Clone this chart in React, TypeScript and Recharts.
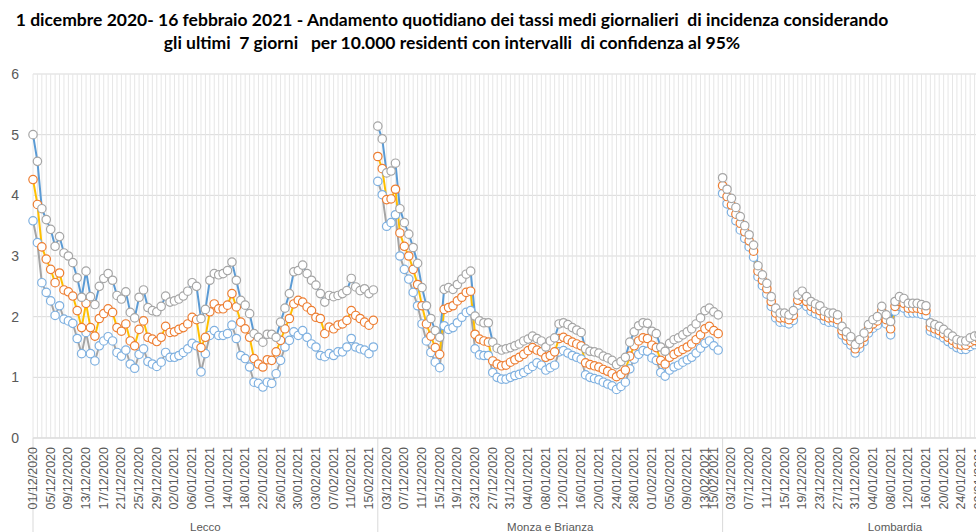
import React from 'react';
import { LineChart, Line, XAxis, YAxis, CartesianGrid } from 'recharts';

// ---------- categories ----------
const DATES: string[] = [
  '01/12/2020','02/12/2020','03/12/2020','04/12/2020','05/12/2020','06/12/2020','07/12/2020','08/12/2020','09/12/2020','10/12/2020',
  '11/12/2020','12/12/2020','13/12/2020','14/12/2020','15/12/2020','16/12/2020','17/12/2020','18/12/2020','19/12/2020','20/12/2020',
  '21/12/2020','22/12/2020','23/12/2020','24/12/2020','25/12/2020','26/12/2020','27/12/2020','28/12/2020','29/12/2020','30/12/2020',
  '31/12/2020','01/01/2021','02/01/2021','03/01/2021','04/01/2021','05/01/2021','06/01/2021','07/01/2021','08/01/2021','09/01/2021',
  '10/01/2021','11/01/2021','12/01/2021','13/01/2021','14/01/2021','15/01/2021','16/01/2021','17/01/2021','18/01/2021','19/01/2021',
  '20/01/2021','21/01/2021','22/01/2021','23/01/2021','24/01/2021','25/01/2021','26/01/2021','27/01/2021','28/01/2021','29/01/2021',
  '30/01/2021','31/01/2021','01/02/2021','02/02/2021','03/02/2021','04/02/2021','05/02/2021','06/02/2021','07/02/2021','08/02/2021',
  '09/02/2021','10/02/2021','11/02/2021','12/02/2021','13/02/2021','14/02/2021','15/02/2021','16/02/2021',
];

const GROUP_NAMES: string[] = ['Lecco', 'Monza e Brianza', 'Lombardia'];

// ---------- series values ----------
const LECCO_UPPER: (number | null)[] = [
  5.0, 4.56, 3.78, 3.6, 3.44, 3.16, 3.32, 3.05, 3.0, 2.89,
  2.64, 2.32, 2.75, 2.33, 2.2, 2.5, 2.63, 2.71, 2.6, 2.35,
  2.29, 2.41, 2.07, 1.98, 2.32, 2.44, 2.15, 2.1, 2.08, 2.17,
  2.34, 2.24, 2.26, 2.29, 2.34, 2.42, 2.56, 2.5, 1.97, 2.12,
  2.6, 2.71, 2.69, 2.71, 2.76, 2.9, 2.6, 2.27, 2.19, 2.05,
  1.72, 1.66, 1.58, 1.71, 1.71, 1.66, 1.91, 2.14, 2.38, 2.74,
  2.76, 2.85, 2.71, 2.6, 2.52, 2.38, 2.24, 2.35, 2.33, 2.35,
  2.38, 2.43, 2.63, 2.49, 2.43, 2.46, 2.38, 2.44,
];
const LECCO_MEAN: (number | null)[] = [
  4.26, 3.85, 3.15, 2.95, 2.78, 2.56, 2.72, 2.44, 2.41, 2.34,
  2.1, 1.82, 2.22, 1.82, 1.68, 1.97, 2.05, 2.13, 2.07, 1.82,
  1.76, 1.88, 1.6, 1.52, 1.79, 1.93, 1.66, 1.63, 1.59, 1.66,
  1.84, 1.74, 1.75, 1.79, 1.82, 1.88, 1.99, 1.95, 1.49, 1.66,
  2.08, 2.21, 2.13, 2.13, 2.19, 2.38, 2.16, 1.91, 1.8, 1.66,
  1.31, 1.22, 1.17, 1.29, 1.28, 1.42, 1.61, 1.8, 1.97, 2.21,
  2.27, 2.24, 2.16, 2.1, 1.99, 1.97, 1.72, 1.83, 1.8, 1.86,
  1.88, 1.94, 2.1, 2.02, 1.97, 1.91, 1.86, 1.94,
];
const LECCO_LOWER: (number | null)[] = [
  3.58, 3.22, 2.56, 2.4, 2.26, 2.02, 2.18, 1.96, 1.93, 1.89,
  1.64, 1.39, 1.74, 1.39, 1.27, 1.52, 1.6, 1.67, 1.6, 1.41,
  1.35, 1.45, 1.22, 1.15, 1.38, 1.47, 1.26, 1.22, 1.18, 1.25,
  1.41, 1.33, 1.33, 1.36, 1.41, 1.47, 1.56, 1.52, 1.09, 1.39,
  1.69, 1.77, 1.69, 1.69, 1.72, 1.86, 1.64, 1.36, 1.31, 1.17,
  0.92, 0.9, 0.84, 0.92, 0.9, 1.06, 1.28, 1.5, 1.61, 1.75,
  1.69, 1.77, 1.66, 1.55, 1.5, 1.36, 1.34, 1.39, 1.36, 1.42,
  1.42, 1.5, 1.64, 1.5, 1.47, 1.45, 1.39, 1.5,
];

const MONZA_UPPER: (number | null)[] = [
  5.14, 4.93, 4.37, 4.4, 4.53, 3.78, 3.55, 3.36, 3.14, 2.88,
  2.48, 2.18, 1.97, 1.77, 1.66, 2.45, 2.48, 2.45, 2.53, 2.62,
  2.7, 2.75, 2.01, 1.93, 1.9, 1.9, 1.58, 1.48, 1.45, 1.47,
  1.49, 1.52, 1.55, 1.6, 1.63, 1.68, 1.64, 1.6, 1.5, 1.6,
  1.65, 1.88, 1.9, 1.87, 1.82, 1.78, 1.74, 1.47, 1.43, 1.42,
  1.4, 1.35, 1.32, 1.28, 1.21, 1.26, 1.33, 1.58, 1.75, 1.85,
  1.9, 1.89, 1.76, 1.72, 1.5, 1.43, 1.56, 1.62, 1.65, 1.7,
  1.75, 1.8, 1.88, 1.98, 2.1, 2.14, 2.08, 2.03,
];
const MONZA_MEAN: (number | null)[] = [
  4.64, 4.44, 3.93, 3.94, 4.1, 3.38, 3.16, 3.0, 2.78, 2.53,
  2.18, 1.88, 1.68, 1.49, 1.38, 2.12, 2.15, 2.18, 2.26, 2.32,
  2.4, 2.42, 1.71, 1.63, 1.6, 1.58, 1.27, 1.22, 1.19, 1.2,
  1.25, 1.29, 1.33, 1.38, 1.44, 1.49, 1.45, 1.42, 1.33, 1.36,
  1.42, 1.64, 1.66, 1.62, 1.58, 1.55, 1.52, 1.24, 1.21, 1.19,
  1.17, 1.13, 1.1, 1.06, 1.01, 1.05, 1.12, 1.35, 1.52, 1.6,
  1.65, 1.64, 1.53, 1.49, 1.28, 1.22, 1.33, 1.38, 1.42, 1.46,
  1.5, 1.55, 1.62, 1.7, 1.8, 1.84, 1.77, 1.72,
];
const MONZA_LOWER: (number | null)[] = [
  4.23, 4.01, 3.49, 3.55, 3.68, 3.0, 2.78, 2.62, 2.4, 2.18,
  1.88, 1.6, 1.41, 1.25, 1.16, 1.85, 1.79, 1.82, 1.9, 1.99,
  2.07, 2.1, 1.47, 1.37, 1.36, 1.36, 1.08, 1.0, 0.97, 0.97,
  1.0, 1.03, 1.05, 1.08, 1.13, 1.18, 1.24, 1.2, 1.12, 1.16,
  1.2, 1.42, 1.44, 1.4, 1.36, 1.33, 1.3, 1.04, 1.0, 0.98,
  0.96, 0.92, 0.89, 0.86, 0.8, 0.85, 0.92, 1.14, 1.3, 1.38,
  1.44, 1.43, 1.32, 1.28, 1.08, 1.02, 1.12, 1.17, 1.2, 1.25,
  1.29, 1.33, 1.4, 1.48, 1.56, 1.6, 1.52, 1.45,
];

// Lombardia: the reference picture is cut at the right edge; later days are not visible
const LOMBARDIA_UPPER: (number | null)[] = [
  4.29, 4.1, 3.95, 3.8, 3.65, 3.5, 3.35, 3.18, 2.84, 2.69,
  2.55, 2.33, 2.14, 2.06, 2.06, 2.03, 2.1, 2.36, 2.42, 2.33,
  2.25, 2.21, 2.18, 2.09, 2.06, 2.06, 2.03, 1.84, 1.75, 1.67,
  1.54, 1.62, 1.73, 1.87, 1.95, 2.0, 2.17, 2.03, 1.92, 2.25,
  2.33, 2.3, 2.22, 2.22, 2.22, 2.2, 2.18, 1.9, 1.87, 1.84,
  1.79, 1.73, 1.68, 1.62, 1.6, 1.6, 1.65, 1.68, 1.7, 1.73,
  null, null, null, null, null, null, null, null, null, null,
  null, null, null, null, null, null, null, null,
];
const LOMBARDIA_MEAN: (number | null)[] = [
  4.16, 3.98, 3.84, 3.69, 3.54, 3.4, 3.25, 3.08, 2.75, 2.6,
  2.46, 2.25, 2.06, 1.98, 1.98, 1.95, 2.02, 2.27, 2.33, 2.25,
  2.17, 2.13, 2.1, 2.01, 1.98, 1.98, 1.95, 1.77, 1.68, 1.6,
  1.47, 1.55, 1.66, 1.8, 1.88, 1.93, 2.09, 1.95, 1.8, 2.17,
  2.25, 2.22, 2.14, 2.14, 2.14, 2.12, 2.1, 1.83, 1.8, 1.77,
  1.72, 1.66, 1.61, 1.55, 1.53, 1.53, 1.58, 1.61, 1.63, 1.66,
  null, null, null, null, null, null, null, null, null, null,
  null, null, null, null, null, null, null, null,
];
const LOMBARDIA_LOWER: (number | null)[] = [
  4.03, 3.86, 3.72, 3.58, 3.43, 3.29, 3.15, 2.98, 2.66, 2.51,
  2.37, 2.17, 1.98, 1.91, 1.91, 1.88, 1.94, 2.19, 2.25, 2.17,
  2.09, 2.05, 2.02, 1.94, 1.91, 1.91, 1.88, 1.7, 1.61, 1.53,
  1.4, 1.48, 1.59, 1.73, 1.81, 1.86, 2.01, 1.88, 1.7, 2.09,
  2.17, 2.14, 2.06, 2.06, 2.06, 2.04, 2.02, 1.76, 1.73, 1.7,
  1.65, 1.59, 1.54, 1.49, 1.46, 1.46, 1.51, 1.54, 1.56, 1.59,
  null, null, null, null, null, null, null, null, null, null,
  null, null, null, null, null, null, null, null,
];

// ---------- tick labels (day indexes that carry a date label, per group) ----------
const LECCO_TICK_DAYS = [0, 4, 8, 12, 16, 20, 24, 28, 32, 36, 40, 44, 48, 52, 56, 60, 64, 68, 72, 76];
const MONZA_TICK_DAYS = [2, 6, 10, 14, 18, 22, 26, 30, 34, 38, 42, 46, 50, 54, 58, 62, 66, 70, 74, 76];
const LOMBARDIA_TICK_DAYS = [2, 6, 10, 14, 18, 22, 26, 30, 34, 38, 42, 46, 50, 54, 58, 62, 66, 70, 74];
const Y_TICKS = [0, 1, 2, 3, 4, 5, 6];

const TITLE_1 = '1 dicembre 2020- 16 febbraio 2021 - Andamento quotidiano dei tassi medi giornalieri  di incidenza considerando';
const TITLE_2 = 'gli ultimi  7 giorni   per 10.000 residenti con intervalli  di confidenza al 95%';

// ---------- build chart table ----------
const GROUPS = [
  { upper: LECCO_UPPER, mean: LECCO_MEAN, lower: LECCO_LOWER, tickDays: LECCO_TICK_DAYS },
  { upper: MONZA_UPPER, mean: MONZA_MEAN, lower: MONZA_LOWER, tickDays: MONZA_TICK_DAYS },
  { upper: LOMBARDIA_UPPER, mean: LOMBARDIA_MEAN, lower: LOMBARDIA_LOWER, tickDays: LOMBARDIA_TICK_DAYS },
];

const MID_DAY = Math.floor(DATES.length / 2);

type Row = { [k: string]: string | number | null };
const data: Row[] = [];
const allKeys: string[] = [];
GROUPS.forEach((g, gi) => {
  DATES.forEach((date, d) => {
    const key = `${gi}|${d}`;
    allKeys.push(key);
    const row: Row = { key, date };
    GROUPS.forEach((_, gj) => {
      row[`u${gj}`] = gj === gi ? g.upper[d] ?? null : null;
      row[`m${gj}`] = gj === gi ? g.mean[d] ?? null : null;
      row[`l${gj}`] = gj === gi ? g.lower[d] ?? null : null;
    });
    data.push(row);
  });
});

const axisTicks: string[] = [];
GROUPS.forEach((g, gi) => {
  const days = Array.from(new Set([0, MID_DAY, ...g.tickDays])).sort((a, b) => a - b);
  days.forEach((d) => axisTicks.push(`${gi}|${d}`));
});

const LABEL_FONT = '"Liberation Sans", Arial, sans-serif';
const AXIS_GRAY = '#D9D9D9';
const TEXT_GRAY = '#595959';

const XTick = (props: any) => {
  const { x, y, payload } = props;
  const [gs, ds] = String(payload.value).split('|');
  const gi = Number(gs);
  const d = Number(ds);
  const half = typeof payload.offset === 'number' ? payload.offset : 0;
  const start = x - half;
  const showDate = GROUPS[gi].tickDays.includes(d);
  return (
    <g>
      {d === 0 && (
        <line x1={start} x2={start} y1={y - 8} y2={y + 110} stroke={AXIS_GRAY} strokeWidth={1} />
      )}
      {showDate && (
        <text
          x={x + 4}
          y={y + 1}
          transform={`rotate(-90 ${x + 4} ${y + 1})`}
          textAnchor="end"
          fontSize={12.5}
          fontFamily={LABEL_FONT}
          fill={TEXT_GRAY}
        >
          {DATES[d]}
        </text>
      )}
      {d === MID_DAY && (
        <text x={start} y={y + 85} textAnchor="middle" fontSize={11.5} fontFamily={LABEL_FONT} fill={TEXT_GRAY}>
          {GROUP_NAMES[gi]}
        </text>
      )}
    </g>
  );
};

const UPPER_LINE = '#5B9BD5';
const UPPER_DOT = '#A5A5A5';
const MEAN_LINE = '#FFC000';
const MEAN_DOT = '#ED7D31';
const LOWER_LINE = '#A5A5A5';
const LOWER_DOT = '#7EB0E0';

export default function App() {
  return (
    <div
      style={{
        position: 'absolute',
        left: 0,
        top: 0,
        width: 976,
        height: 532,
        overflow: 'hidden',
        background: '#fff',
      }}
    >
      <div
        style={{
          position: 'absolute',
          left: 0,
          top: 8,
          width: 904,
          textAlign: 'center',
          fontFamily: 'Lato, "Open Sans", sans-serif',
          fontWeight: 700,
          fontSize: 17.5,
          lineHeight: '23px',
          color: '#000',
          whiteSpace: 'pre',
        }}
      >
        <div>{TITLE_1}</div>
        <div>{TITLE_2}</div>
      </div>
      <div style={{ position: 'absolute', left: 0, top: 0 }}>
        <LineChart width={1066} height={540} data={data} margin={{ top: 74, right: 3, bottom: 0, left: 0 }}>
          <CartesianGrid vertical={false} stroke={AXIS_GRAY} />
          <CartesianGrid horizontal={false} stroke="#E6E6E6" verticalValues={allKeys} />
          <XAxis
            dataKey="key"
            type="category"
            ticks={axisTicks}
            interval={0}
            height={102}
            tickLine={false}
            tickSize={0}
            tickMargin={8}
            axisLine={{ stroke: AXIS_GRAY }}
            tick={<XTick />}
          />
          <YAxis
            type="number"
            domain={[0, 6]}
            ticks={Y_TICKS}
            width={33}
            axisLine={false}
            tickLine={false}
            tickSize={0}
            tickMargin={14}
            tick={{ fontSize: 14, fill: TEXT_GRAY, fontFamily: LABEL_FONT }}
          />
          {GROUPS.map((_, gi) => (
            <Line
              key={`l${gi}`}
              dataKey={`l${gi}`}
              type="linear"
              stroke={LOWER_LINE}
              strokeWidth={2}
              dot={{ r: 4.2, fill: '#fff', stroke: LOWER_DOT, strokeWidth: 1.2 }}
              isAnimationActive={false}
              connectNulls={false}
            />
          ))}
          {GROUPS.map((_, gi) => (
            <Line
              key={`m${gi}`}
              dataKey={`m${gi}`}
              type="linear"
              stroke={MEAN_LINE}
              strokeWidth={2}
              dot={{ r: 4.2, fill: '#fff', stroke: MEAN_DOT, strokeWidth: 1.2 }}
              isAnimationActive={false}
              connectNulls={false}
            />
          ))}
          {GROUPS.map((_, gi) => (
            <Line
              key={`u${gi}`}
              dataKey={`u${gi}`}
              type="linear"
              stroke={UPPER_LINE}
              strokeWidth={2}
              dot={{ r: 4.2, fill: '#fff', stroke: UPPER_DOT, strokeWidth: 1.2 }}
              isAnimationActive={false}
              connectNulls={false}
            />
          ))}
        </LineChart>
      </div>
    </div>
  );
}
